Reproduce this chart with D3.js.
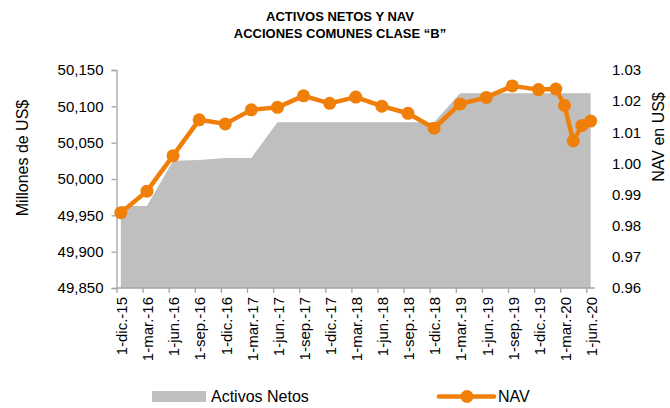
<!DOCTYPE html>
<html>
<head>
<meta charset="utf-8">
<script src="https://cdn.jsdelivr.net/npm/d3@7"></script>
<style>
  html, body { margin: 0; padding: 0; background: #ffffff; }
  svg { display: block; font-family: "Liberation Sans", Arial, sans-serif; }
</style>
</head>
<body>
<svg id="chart" width="670" height="408"></svg>
<script>
// ---- data ----
const dates = ["2015-12","2016-03","2016-06","2016-09","2016-12","2017-03","2017-06","2017-09",
               "2017-12","2018-03","2018-06","2018-09","2018-12","2019-03","2019-06","2019-09",
               "2019-12","2020-02","2020-03","2020-04","2020-05","2020-06"];
const netAssets = [49963, 49963, 50025, 50026, 50029, 50029, 50078, 50078,
                   50078, 50078, 50078, 50078, 50078, 50118, 50118, 50118,
                   50118, 50118, 50118, 50118, 50118, 50118];
const navValues = [0.9842, 0.9911, 1.0025, 1.0140, 1.0127, 1.0172, 1.0180, 1.0217,
                   1.0193, 1.0213, 1.0184, 1.0161, 1.0113, 1.0191, 1.0212, 1.0249,
                   1.0237, 1.0239, 1.0186, 1.0072, 1.0122, 1.0136];
const tickLabels = ["1-dic.-15","1-mar.-16","1-jun.-16","1-sep.-16","1-dic.-16","1-mar.-17",
                    "1-jun.-17","1-sep.-17","1-dic.-17","1-mar.-18","1-jun.-18","1-sep.-18",
                    "1-dic.-18","1-mar.-19","1-jun.-19","1-sep.-19","1-dic.-19","1-mar.-20","1-jun.-20"];
const leftTicks = [49850, 49900, 49950, 50000, 50050, 50100, 50150];
const rightTicks = [0.96, 0.97, 0.98, 0.99, 1.00, 1.01, 1.02, 1.03];
const titleLines = ["ACTIVOS NETOS Y NAV", "ACCIONES COMUNES CLASE \u201CB\u201D"];

// ---- helpers ----
const monthIndex = s => { const [y, m] = s.split("-").map(Number); return (y - 2015) * 12 + (m - 12); };
const tickMonths = tickLabels.map((d, i) => i * 3);

const svg = d3.select("#chart");
const orange = "#f07f09";
const grey = "#bfbfbf";
const axisGrey = "#a6a6a6";

const x = d3.scaleLinear().domain([0, 55]).range([116.5, 595]);
const yL = d3.scaleLinear().domain([49850, 50150]).range([288, 70]);
const yR = d3.scaleLinear().domain([0.96, 1.03]).range([288, 70]);

const data = dates.map((d, i) => ({ m: monthIndex(d) + 0.5, a: netAssets[i], n: navValues[i] }));

// area
svg.append("path")
  .datum(data)
  .attr("fill", grey)
  .attr("d", d3.area().x(d => x(d.m)).y0(yL(49850)).y1(d => yL(d.a)));

// left axis
const gL = svg.append("g").attr("transform", `translate(${x(0)},0)`)
  .call(d3.axisLeft(yL).tickValues(leftTicks).tickSize(5).tickPadding(8)
        .tickFormat(d3.format(",.0f")));
gL.select(".domain").attr("stroke", axisGrey).attr("stroke-width", 1.3);
gL.selectAll(".tick line").attr("stroke", axisGrey).attr("stroke-width", 1.3);
gL.selectAll(".tick text").attr("font-size", 15).attr("fill", "#000")
  .attr("font-family", "Liberation Sans, Arial, sans-serif");

// right axis (labels only)
const gR = svg.append("g").attr("transform", `translate(${x(55)},0)`)
  .call(d3.axisRight(yR).tickValues(rightTicks).tickSize(0).tickPadding(17)
        .tickFormat(d3.format(".2f")));
gR.select(".domain").remove();
gR.selectAll(".tick text").attr("font-size", 15).attr("fill", "#000")
  .attr("font-family", "Liberation Sans, Arial, sans-serif");

// bottom axis
const gB = svg.append("g").attr("transform", `translate(0,${yL(49850)})`)
  .call(d3.axisBottom(x).tickValues(tickMonths).tickSize(5).tickFormat(""));
gB.select(".domain").attr("stroke", axisGrey).attr("stroke-width", 1.3)
  .attr("d", `M${x(0)},0H${x(55)}`);
gB.selectAll(".tick line").attr("stroke", axisGrey).attr("stroke-width", 1.3);

// x labels, rotated
svg.append("g").selectAll("text")
  .data(tickLabels)
  .join("text")
  .attr("transform", (d, i) => `translate(${x(tickMonths[i] + 0.5) + 1},297) rotate(-90)`)
  .attr("text-anchor", "end")
  .attr("dy", "0.35em")
  .attr("font-size", 15)
  .attr("fill", "#000")
  .text(d => d);

// NAV line
svg.append("path")
  .datum(data)
  .attr("fill", "none")
  .attr("stroke", orange)
  .attr("stroke-width", 4.5)
  .attr("stroke-linejoin", "round")
  .attr("d", d3.line().x(d => x(d.m)).y(d => yR(d.n)));

svg.append("g").selectAll("circle")
  .data(data)
  .join("circle")
  .attr("cx", d => x(d.m))
  .attr("cy", d => yR(d.n))
  .attr("r", 6.5)
  .attr("fill", orange);

// titles
svg.append("g").selectAll("text")
  .data(titleLines)
  .join("text")
  .attr("x", 340)
  .attr("y", (d, i) => 21 + i * 17)
  .attr("text-anchor", "middle")
  .attr("font-weight", "bold")
  .attr("font-size", 13)
  .attr("fill", "#000")
  .text(d => d);

// axis titles
svg.append("text")
  .attr("transform", "translate(28,158) rotate(-90)")
  .attr("text-anchor", "middle")
  .attr("font-size", 16)
  .attr("fill", "#000")
  .text("Millones de US$");

svg.append("text")
  .attr("transform", "translate(664,137) rotate(-90)")
  .attr("text-anchor", "middle")
  .attr("font-size", 16)
  .attr("fill", "#000")
  .text("NAV en US$");

// legend
const lg = svg.append("g");
lg.append("rect").attr("x", 152).attr("y", 391).attr("width", 54).attr("height", 11).attr("fill", grey);
lg.append("text").attr("x", 211).attr("y", 402).attr("font-size", 16).attr("fill", "#000").text("Activos Netos");
lg.append("line").attr("x1", 439).attr("x2", 494).attr("y1", 396.5).attr("y2", 396.5)
  .attr("stroke", orange).attr("stroke-width", 4.5).attr("stroke-linecap", "round");
lg.append("circle").attr("cx", 467).attr("cy", 396.5).attr("r", 6.5).attr("fill", orange);
lg.append("text").attr("x", 498).attr("y", 402).attr("font-size", 16).attr("fill", "#000").text("NAV");
</script>
</body>
</html>
